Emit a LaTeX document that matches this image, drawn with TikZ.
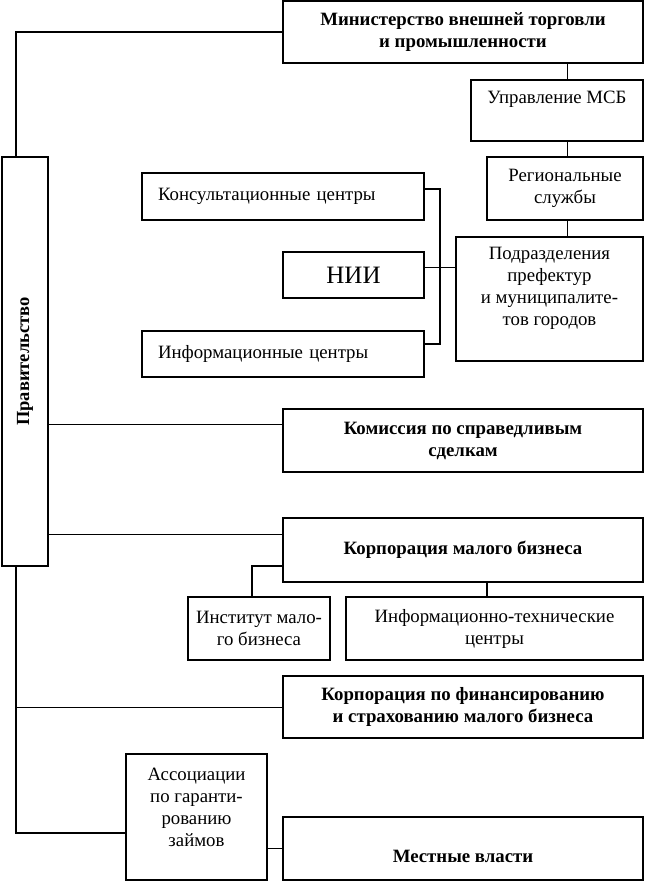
\documentclass[tikz,border=0pt]{standalone}
\usepackage{fontspec}
\setmainfont{Liberation Serif}
\usetikzlibrary{calc}

\begin{document}
\begin{tikzpicture}
    [x=1pt, y=-1pt,
      box/.style={draw, line width=1.7pt, inner sep=0pt, align=center,
        font=\fontsize{18.8}{22}\selectfont},
      head/.style={box, font=\fontsize{18.8}{22}\selectfont\bfseries},
      lbl/.style={anchor=center, align=center, font=\fontsize{18.8}{22}\selectfont},
      link/.style={line width=0.9pt},
      heavy/.style={line width=1.8pt}]

    \useasboundingbox (0,0) rectangle (645,881);

    \coordinate (rail) at (16,0);
    \coordinate (trunk) at (567,0);
    \coordinate (brk) at (440,267);

    % ministry and its services
    \node[head, minimum width=360pt, minimum height=62pt] (min) at (463,32)
      {Министерство внешней торговли\\и промышленности};
    \node[box, minimum width=172pt, minimum height=61pt,
      label={[lbl, yshift=11pt]center:Управление МСБ}] (upr) at (557,110.5) {};
    \node[box, minimum width=156pt, minimum height=63pt] (reg) at (565,188.5)
      {Региональные\\службы};
    \node[box, minimum width=187pt, minimum height=124pt,
      label={[lbl, yshift=11pt]center:Подразделения\\префектур\\и муниципалите-\\тов городов}]
      (pod) at (549.5,299) {};

    \node[box, minimum width=282pt, minimum height=47pt, text width=250pt,
      inner xsep=16pt, align=left] (kons) at (283,196.5) {Консультационные центры};
    \node[box, minimum width=141pt, minimum height=46pt,
      font=\fontsize{25}{30}\selectfont] (nii) at (353.5,275) {НИИ};
    \node[box, minimum width=282pt, minimum height=46pt, text width=250pt,
      inner xsep=16pt, align=left] (inf) at (283,354) {Информационные центры};

    \node[box, minimum width=46pt, minimum height=409pt,
      label={[lbl, rotate=90, font=\fontsize{18.5}{20}\selectfont\bfseries]center:Правительство}]
      (prav) at (25,361.5) {};

    % bodies under the government
    \node[head, minimum width=360pt, minimum height=63pt] (kom) at (463,440.5)
      {Комиссия по справедливым\\сделкам};
    \node[head, minimum width=360pt, minimum height=64pt] (kmb) at (463,550)
      {Корпорация малого бизнеса};
    \node[box, minimum width=142pt, minimum height=63pt] (inst) at (259,628.5)
      {Институт мало-\\го бизнеса};
    \node[box, minimum width=297pt, minimum height=63pt] (itc) at (494.5,628.5)
      {Информационно-технические\\центры};
    \node[head, minimum width=360pt, minimum height=62pt] (kfin) at (463,707)
      {Корпорация по финансированию\\и страхованию малого бизнеса};
    \node[box, minimum width=141pt, minimum height=126pt,
      label={[lbl, yshift=9.5pt]center:Ассоциации\\по гаранти-\\рованию\\займов}]
      (asc) at (196.5,817) {};
    \node[head, minimum width=360pt, minimum height=63pt,
      label={[lbl, yshift=-8pt, font=\fontsize{18.8}{22}\selectfont\bfseries]center:Местные власти}]
      (mest) at (463,848.5) {};

    % connectors
    \draw[heavy] (min.west) -| (rail |- prav.north);
    \draw[link] (trunk |- min.south) -- (trunk |- upr.north);
    \draw[link] (trunk |- upr.south) -- (trunk |- reg.north);
    \draw[link] (trunk |- reg.south) -- (trunk |- pod.north);

    \draw[heavy] ([yshift=7.5pt]kons.east) -| (brk) |- ([yshift=10pt]inf.east);
    \draw[link] ([yshift=8pt]nii.east) -- ([yshift=8pt]nii.east -| pod.west);

    \draw[link] ([yshift=16.5pt]kom.west -| prav.east) -- ([yshift=16.5pt]kom.west);
    \draw[link] ([yshift=16pt]kmb.west -| prav.east) -- ([yshift=16pt]kmb.west);
    \draw[heavy] ([yshift=-16pt]kmb.west) -| ([xshift=-7pt]inst.north);
    \draw[heavy] ([xshift=-7.5pt]itc.north) -- ([xshift=-7.5pt]itc.north |- kmb.south);

    \draw[heavy] (rail |- prav.south) |- ([yshift=-16pt]asc.west);
    \draw[link] (rail |- kfin.west) -- (kfin.west);
    \draw[link] (asc.east |- mest.west) -- (mest.west);
\end{tikzpicture}
\end{document}
